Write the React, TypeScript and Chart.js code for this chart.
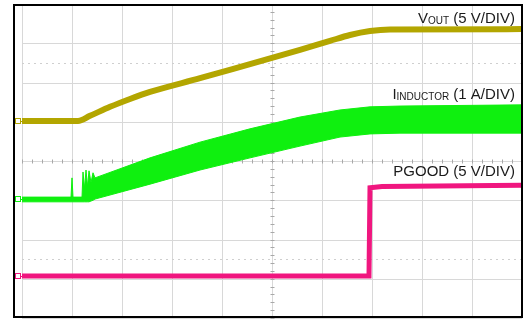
import React, { useEffect, useRef } from "react";
import Chart from "chart.js/auto";

// Oscilloscope screen: 10 horizontal divisions, 8 vertical divisions.
// Values are given in screen divisions (x: time div, y: vertical div).
const VOUT_X = [0, 1.12, 1.36, 1.76, 2.16, 2.56, 3.56, 4.56, 5.56, 6.16, 6.56, 6.96, 7.36, 10];
const VOUT_Y = [5.02, 5.02, 5.15, 5.38, 5.58, 5.76, 6.11, 6.47, 6.83, 7.06, 7.21, 7.31, 7.35, 7.36];

const IND_X = [0, 0.98, 1.0, 1.02, 1.2, 1.22, 1.25, 1.28, 1.31, 1.34, 1.38, 1.42, 1.46, 2.56, 3.56, 4.56, 5.56, 6.36, 6.96, 7.56, 10];
const IND_TOP = [3.08, 3.08, 3.57, 3.08, 3.08, 3.72, 3.3, 3.77, 3.35, 3.75, 3.45, 3.7, 3.57, 4.08, 4.48, 4.82, 5.12, 5.3, 5.38, 5.4, 5.43];
const IND_BOT = [2.96, 2.96, 2.96, 2.96, 2.96, 2.96, 2.96, 2.96, 2.96, 2.96, 2.98, 3.0, 3.03, 3.41, 3.77, 4.08, 4.38, 4.61, 4.69, 4.71, 4.71];

const PGOOD_X = [0, 6.94, 6.96, 7.2, 10];
const PGOOD_Y = [1.07, 1.07, 3.32, 3.35, 3.38];

const X_DIVS = 10;
const Y_DIVS = 8;

const LABELS: { parts: [string, boolean][]; y: number }[] = [
  { parts: [["V", false], ["OUT", true], [" (5 V/DIV)", false]], y: 7.52 },
  { parts: [["I", false], ["INDUCTOR", true], [" (1 A/DIV)", false]], y: 5.58 },
  { parts: [["PGOOD (5 V/DIV)", false]], y: 3.63 },
];

const C_VOUT = "#b3a600";
const C_IND = "#0ff00f";
const C_PG = "#f0167f";

const pts = (xs: number[], ys: number[]) => xs.map((x, i) => ({ x, y: ys[i] }));

export default function App() {
  const ref = useRef<HTMLCanvasElement>(null);

  useEffect(() => {
    document.body.style.margin = "0";
    const canvas = ref.current!;

    const scopePlugin = {
      id: "scope",
      beforeDraw(chart: any) {
        const ctx = chart.ctx;
        ctx.save();
        ctx.fillStyle = "#ffffff";
        ctx.fillRect(0, 0, chart.width, chart.height);
        ctx.restore();
      },
      beforeDatasetsDraw(chart: any) {
        const ctx = chart.ctx;
        const xs = chart.scales.x;
        const ys = chart.scales.y;
        const { left, right, top, bottom } = chart.chartArea;
        ctx.save();
        ctx.lineWidth = 1;
        ctx.strokeStyle = "#d8d8d8";
        for (let i = 0; i <= X_DIVS; i++) {
          const px = Math.round(xs.getPixelForValue(i)) + 0.5;
          ctx.beginPath();
          ctx.moveTo(px, top);
          ctx.lineTo(px, bottom);
          ctx.stroke();
        }
        for (let j = 0; j <= Y_DIVS; j++) {
          const py = Math.round(ys.getPixelForValue(j)) + 0.5;
          ctx.beginPath();
          ctx.moveTo(left, py);
          ctx.lineTo(right, py);
          ctx.stroke();
        }
        // dotted reference lines
        ctx.setLineDash([2, 4]);
        ctx.strokeStyle = "#cfcfcf";
        [1.5, 6.5].forEach((v) => {
          const py = Math.round(ys.getPixelForValue(v)) + 0.5;
          ctx.beginPath();
          ctx.moveTo(left, py);
          ctx.lineTo(right, py);
          ctx.stroke();
        });
        ctx.setLineDash([]);
        // center minor ticks
        ctx.strokeStyle = "#a8a8a8";
        const cy = Math.round(ys.getPixelForValue(Y_DIVS / 2)) + 0.5;
        const cx = Math.round(xs.getPixelForValue(X_DIVS / 2)) + 0.5;
        for (let k = 0; k <= X_DIVS * 5; k++) {
          const px = Math.round(xs.getPixelForValue(k / 5)) + 0.5;
          ctx.beginPath();
          ctx.moveTo(px, cy - 2);
          ctx.lineTo(px, cy + 2);
          ctx.stroke();
        }
        for (let k = 0; k <= Y_DIVS * 5; k++) {
          const py = Math.round(ys.getPixelForValue(k / 5)) + 0.5;
          ctx.beginPath();
          ctx.moveTo(cx - 2, py);
          ctx.lineTo(cx + 2, py);
          ctx.stroke();
        }
        ctx.restore();
      },
      afterDraw(chart: any) {
        const ctx = chart.ctx;
        const xs = chart.scales.x;
        const ys = chart.scales.y;
        const { left, right, top, bottom } = chart.chartArea;
        ctx.save();
        // channel ground markers
        const markers: [number, string][] = [
          [VOUT_Y[0], C_VOUT],
          [(IND_TOP[0] + IND_BOT[0]) / 2, C_IND],
          [PGOOD_Y[0], C_PG],
        ];
        ctx.lineWidth = 1;
        markers.forEach(([v, c]) => {
          const py = Math.round(ys.getPixelForValue(v));
          ctx.strokeStyle = c;
          ctx.strokeRect(left - 6.5, py - 2.5, 5, 5);
          ctx.beginPath();
          ctx.moveTo(left - 1, py + 0.5);
          ctx.lineTo(left + 1, py + 0.5);
          ctx.stroke();
        });
        // frame
        ctx.strokeStyle = "#000";
        ctx.lineWidth = 2;
        ctx.strokeRect(left - 8, top + 1, right - left + 8, bottom - top - 2);
        // labels
        ctx.fillStyle = "#1a1a1a";
        ctx.textBaseline = "alphabetic";
        const mainFont = '15px "Liberation Sans", Arial, sans-serif';
        const subFont = '10px "Liberation Sans", Arial, sans-serif';
        const rx = xs.getPixelForValue(9.86);
        LABELS.forEach((lab) => {
          const by = ys.getPixelForValue(lab.y);
          let total = 0;
          const widths = lab.parts.map(([t, sub]) => {
            ctx.font = sub ? subFont : mainFont;
            const w = ctx.measureText(t).width;
            total += w;
            return w;
          });
          let x = rx - total;
          lab.parts.forEach(([t, sub], i) => {
            ctx.font = sub ? subFont : mainFont;
            ctx.fillText(t, x, by + (sub ? 1 : 0));
            x += widths[i];
          });
        });
        ctx.restore();
      },
    };

    const chart = new Chart(canvas, {
      type: "line",
      data: {
        datasets: [
          {
            label: "VOUT",
            data: pts(VOUT_X, VOUT_Y),
            borderColor: C_VOUT,
            borderWidth: 6,
            pointRadius: 0,
            cubicInterpolationMode: "monotone",
            fill: false,
            order: 1,
          },
          {
            label: "IL bottom",
            data: pts(IND_X, IND_BOT),
            borderColor: C_IND,
            borderWidth: 1,
            pointRadius: 0,
            fill: false,
            order: 2,
          },
          {
            label: "IL top",
            data: pts(IND_X, IND_TOP),
            borderColor: C_IND,
            backgroundColor: C_IND,
            borderWidth: 1,
            pointRadius: 0,
            fill: "-1",
            order: 2,
          },
          {
            label: "PGOOD",
            data: pts(PGOOD_X, PGOOD_Y),
            borderColor: C_PG,
            borderWidth: 5,
            pointRadius: 0,
            fill: false,
            order: 3,
          },
        ],
      },
      options: {
        responsive: false,
        animation: false,
        devicePixelRatio: 1,
        layout: { padding: { left: 22, right: 3, top: 4, bottom: 2 } },
        plugins: { legend: { display: false }, tooltip: { enabled: false } },
        scales: {
          x: { type: "linear", min: 0, max: X_DIVS, display: false },
          y: { type: "linear", min: 0, max: Y_DIVS, display: false },
        },
      },
      plugins: [scopePlugin],
    } as any);

    return () => chart.destroy();
  }, []);

  return (
    <div style={{ position: "absolute", left: 0, top: 0, width: 525, height: 320 }}>
      <canvas ref={ref} width={525} height={320} style={{ width: 525, height: 320, display: "block" }} />
    </div>
  );
}
